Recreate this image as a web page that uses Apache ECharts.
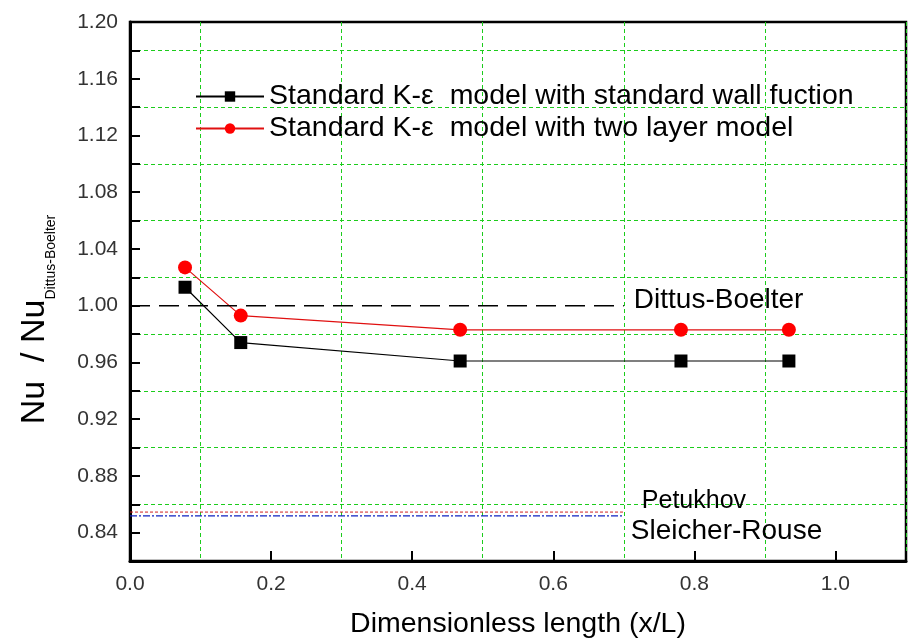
<!DOCTYPE html>
<html><head><meta charset="utf-8">
<script src="https://cdn.jsdelivr.net/npm/echarts@6/dist/echarts.min.js"></script>
<style>html,body{margin:0;background:#fff}#c{width:908px;height:640px}</style>
</head><body><div id="c"></div>
<script>
// ---- data ----
const xPositions = [0.078, 0.157, 0.468, 0.781, 0.934];
const wallFunction = [1.013, 0.974, 0.961, 0.961, 0.961];
const twoLayer = [1.027, 0.993, 0.983, 0.983, 0.983];
const refLineX = [0, 0.7];
const dittusBoelter = 1.00;
const petukhov = 0.8545;
const sleicherRouse = 0.8518;
const seriesNames = ['Standard K-\u03b5  model with standard wall fuction', 'Standard K-\u03b5  model with two layer model'];
const refNames = ['Dittus-Boelter', 'Petukhov', 'Sleicher-Rouse'];
const xAxisTitle = 'Dimensionless length (x/L)';
const yAxisTitleMain = 'Nu  / Nu';
const yAxisTitleSub = 'Dittus-Boelter';
const xRange = [0, 1.1];
const yRange = [0.82, 1.20];

const FONT = 'Arial, "Liberation Sans", sans-serif';
const GREEN = '#1ccc1c';
const NONE = 'rgba(0,0,0,0)';
const pair = (xs, ys) => xs.map((x, i) => [x, ys[i]]);
const flat = (xs, v) => xs.map(x => [x, v]);

const chart = echarts.init(document.getElementById('c'), null, {renderer: 'canvas'});
chart.setOption({
  animation: false,
  backgroundColor: '#fff',
  grid: {left: 130, right: 2, top: 22, bottom: 79, containLabel: false, outerBoundsMode: 'none',
    show: true, borderColor: '#000', borderWidth: 2.5, backgroundColor: 'transparent'},
  legend: {
    data: seriesNames,
    orient: 'vertical', left: 190, top: 77, itemGap: 3,
    itemWidth: 68, itemHeight: 13,
    textStyle: {fontFamily: FONT, fontSize: 28.5, color: '#000'}
  },
  xAxis: [{
    type: 'value', min: xRange[0], max: xRange[1], interval: 0.2,
    axisLine: {show: true, onZero: false, lineStyle: {color: '#000', width: 3}},
    axisTick: {show: true, inside: true, length: 10, lineStyle: {color: '#000', width: 2}},
    axisLabel: {margin: 13, fontFamily: FONT, fontSize: 21, color: '#333',
      formatter: v => (v > 1.05 ? '' : v.toFixed(1))},
    splitLine: {show: false},
    name: xAxisTitle, nameLocation: 'middle', nameGap: 49,
    nameTextStyle: {fontFamily: FONT, fontSize: 28.5, color: '#000'}
  }, {
    type: 'value', min: xRange[0], max: xRange[1], interval: 0.1, position: 'bottom',
    axisLine: {show: false}, axisTick: {show: false}, axisLabel: {show: false},
    splitLine: {show: true, showMinLine: true, showMaxLine: true,
      lineStyle: {color: [NONE, GREEN], type: [4, 3], width: 1}}
  }],
  yAxis: [{
    type: 'value', min: yRange[0], max: yRange[1], interval: 0.02,
    axisLine: {show: true, onZero: false, lineStyle: {color: '#000', width: 3}},
    axisTick: {show: true, inside: true, length: 10, lineStyle: {color: '#000', width: 2}},
    axisLabel: {margin: 12, fontFamily: FONT, fontSize: 21, color: '#333',
      formatter: v => (Math.round(v * 100) % 4 === 0 ? v.toFixed(2) : '')},
    splitLine: {show: true, showMinLine: true, showMaxLine: true,
      lineStyle: {color: [GREEN, NONE], type: [4, 3], width: 1}},
    name: '{m|' + yAxisTitleMain + '}{s|' + yAxisTitleSub + '}',
    nameLocation: 'middle', nameGap: 72, nameRotate: 90,
    nameTextStyle: {
      padding: [0, 56, 0, 0],
      rich: {
        m: {fontFamily: FONT, fontSize: 34, color: '#000', lineHeight: 46, verticalAlign: 'middle'},
        s: {fontFamily: FONT, fontSize: 14, color: '#000', lineHeight: 14, padding: [32, 0, 0, 0]}
      }
    }
  }],
  series: [{
    name: seriesNames[0], type: 'line', xAxisIndex: 0, yAxisIndex: 0,
    data: pair(xPositions, wallFunction),
    symbol: 'rect', symbolSize: 13,
    itemStyle: {color: '#000'}, lineStyle: {color: '#000', width: 1.2}
  }, {
    name: seriesNames[1], type: 'line', xAxisIndex: 0, yAxisIndex: 0,
    data: pair(xPositions, twoLayer),
    symbol: 'circle', symbolSize: 14,
    itemStyle: {color: '#ff0000'}, lineStyle: {color: '#e01010', width: 1.2}
  }, {
    name: refNames[0], type: 'line', data: flat(refLineX, dittusBoelter), symbol: 'none',
    lineStyle: {color: '#000', width: 1.5, type: [20, 9]},
    endLabel: {show: true, formatter: refNames[0], distance: 10, offset: [0, -5],
      fontFamily: FONT, fontSize: 28, color: '#000'}
  }, {
    name: refNames[1], type: 'line', data: flat(refLineX, petukhov), symbol: 'none',
    lineStyle: {color: '#d02020', width: 1, type: [3, 2]},
    endLabel: {show: true, formatter: refNames[1], distance: 18, offset: [0, -11],
      fontFamily: FONT, fontSize: 25, color: '#000'}
  }, {
    name: refNames[2], type: 'line', data: flat(refLineX, sleicherRouse), symbol: 'none',
    lineStyle: {color: '#1020c0', width: 1.2, type: [7, 2, 2, 2]},
    endLabel: {show: true, formatter: refNames[2], distance: 7, offset: [0, 15],
      fontFamily: FONT, fontSize: 28, color: '#000'}
  }]
});
</script>
</body></html>
